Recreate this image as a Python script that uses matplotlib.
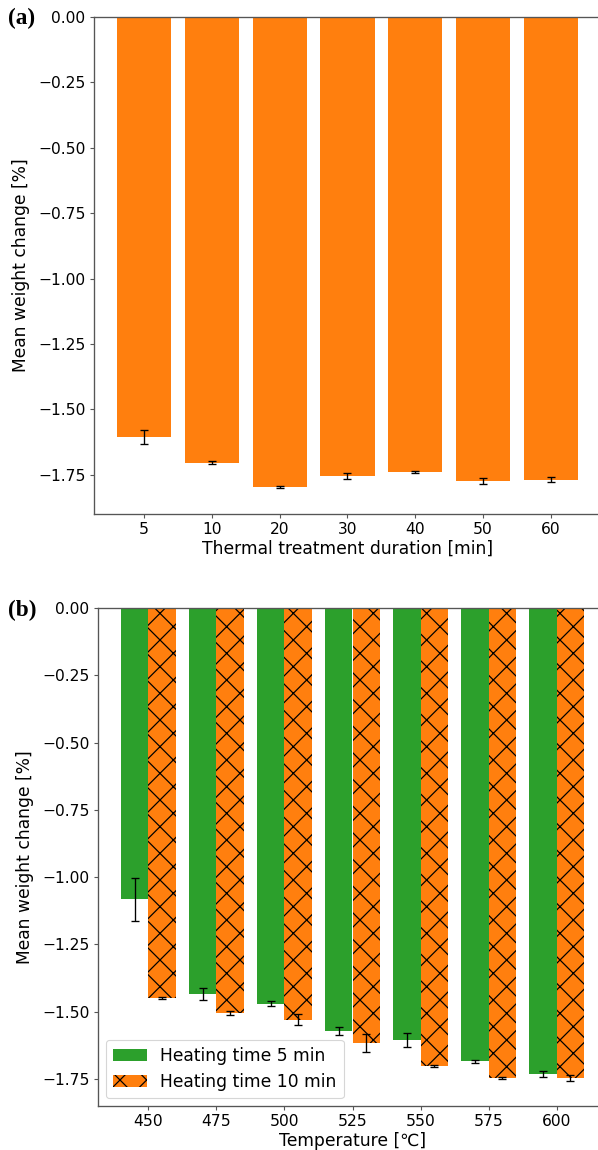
import numpy as np
import matplotlib
matplotlib.use("Agg")
import matplotlib.pyplot as plt

# panel (a): thermal treatment duration
durations = ["5", "10", "20", "30", "40", "50", "60"]
dur_mean = [-1.606, -1.704, -1.796, -1.755, -1.739, -1.774, -1.769]
dur_err = [0.027, 0.005, 0.004, 0.011, 0.004, 0.010, 0.010]

# panel (b): temperature, two heating times
temps = ["450", "475", "500", "525", "550", "575", "600"]
heat5_mean = [-1.082, -1.434, -1.470, -1.570, -1.605, -1.684, -1.732]
heat5_err = [0.080, 0.023, 0.010, 0.015, 0.027, 0.005, 0.012]
heat10_mean = [-1.449, -1.505, -1.529, -1.616, -1.701, -1.745, -1.745]
heat10_err = [0.004, 0.008, 0.020, 0.033, 0.005, 0.004, 0.012]

plt.rcParams['hatch.linewidth'] = 0.55
plt.rcParams['font.family'] = 'DejaVu Sans'

W, H = 598, 1150
DPI = 160
fig = plt.figure(figsize=(W / DPI, H / DPI), dpi=DPI)

fs_tick = 7.0
fs_lab = 7.7
spine_col = '#555555'
orange = '#ff7f0e'
green = '#2ca02c'
ekw = dict(ecolor='black', elinewidth=0.6, capsize=1.8, capthick=0.6)


def style_axes(ax):
    for s in ax.spines.values():
        s.set_color(spine_col)
        s.set_linewidth(0.6)
    ax.tick_params(labelsize=fs_tick, length=2, width=0.5, color=spine_col)
    ax.tick_params(axis='x', pad=1.5)
    ax.tick_params(axis='y', pad=1.8)
    ax.set_yticks([0, -0.25, -0.5, -0.75, -1.0, -1.25, -1.5, -1.75])


# top panel
ax1 = fig.add_axes([94 / W, 1 - 514 / H, (601 - 94) / W, (514 - 17) / H])
x = np.arange(len(durations))
ax1.bar(x, dur_mean, width=0.8, color=orange, yerr=dur_err, error_kw=ekw)
ax1.set_xticks(x)
ax1.set_xticklabels(durations)
ax1.set_xlim(-0.74, 6.74)
ax1.set_ylim(-1.9, 0)
style_axes(ax1)
ax1.set_xlabel("Thermal treatment duration [min]", fontsize=fs_lab, labelpad=1.5)
ax1.set_ylabel("Mean weight change [%]", fontsize=fs_lab, labelpad=3.5)

# bottom panel
ax2 = fig.add_axes([98 / W, 1 - 1106 / H, (607 - 98) / W, (1106 - 608) / H])
x = np.arange(len(temps))
ax2.bar(x - 0.2, heat5_mean, width=0.4, color=green, yerr=heat5_err,
        error_kw=ekw, label="Heating time 5 min")
ax2.bar(x + 0.2, heat10_mean, width=0.4, color=orange, yerr=heat10_err,
        error_kw=ekw, hatch='xx', edgecolor='black', linewidth=0,
        label="Heating time 10 min")
ax2.set_xticks(x)
ax2.set_xticklabels(temps)
ax2.set_xlim(-0.74, 6.74)
ax2.set_ylim(-1.85, 0)
style_axes(ax2)
ax2.set_xlabel("Temperature [\u2103]", fontsize=fs_lab, labelpad=1.5)
ax2.set_ylabel("Mean weight change [%]", fontsize=fs_lab, labelpad=3.5)
leg = ax2.legend(loc='lower left', fontsize=fs_lab, borderaxespad=0.45)
leg.get_frame().set_linewidth(0.5)

# panel letters
fig.text(8 / W, 1 - 18 / H, "(a)", fontsize=10.5, fontweight='bold',
         family='Liberation Serif', va='center', ha='left')
fig.text(8 / W, 1 - 610 / H, "(b)", fontsize=10.5, fontweight='bold',
         family='Liberation Serif', va='center', ha='left')

fig.savefig("out.png", dpi=DPI)
